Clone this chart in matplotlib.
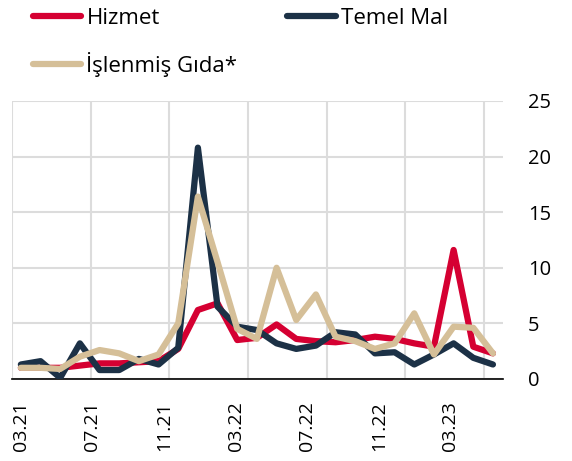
import numpy as np
import matplotlib.pyplot as plt

plt.rcParams['font.family'] = ['Open Sans', 'DejaVu Sans']

# monthly series, 03.21 .. 03.23
months = ['03.21', '04.21', '05.21', '06.21', '07.21', '08.21', '09.21', '10.21',
          '11.21', '12.21', '01.22', '02.22', '03.22', '04.22', '05.22', '06.22',
          '07.22', '08.22', '09.22', '10.22', '11.22', '12.22', '01.23', '02.23', '03.23']
hizmet = [1.0, 1.0, 1.0, 1.2, 1.4, 1.4, 1.5, 1.6, 2.7, 6.2, 6.8, 3.5, 3.7,
          4.9, 3.6, 3.4, 3.3, 3.5, 3.8, 3.6, 3.2, 2.9, 11.6, 2.9, 2.3]
temel_mal = [1.3, 1.6, 0.1, 3.2, 0.8, 0.8, 1.8, 1.3, 2.8, 20.8, 6.5, 4.7, 4.4,
             3.2, 2.7, 3.0, 4.2, 4.0, 2.3, 2.4, 1.3, 2.2, 3.2, 1.9, 1.3]
islenmis_gida = [1.0, 1.0, 0.9, 2.0, 2.6, 2.3, 1.6, 2.2, 5.0, 16.4, 10.5, 4.5, 3.6,
                 10.0, 5.3, 7.6, 3.8, 3.4, 2.7, 3.2, 5.9, 2.2, 4.7, 4.6, 2.3]
tick_labels = ['03.21', '07.21', '11.21', '03.22', '07.22', '11.22', '03.23']

red = '#d50032'
navy = '#1c3146'
tan = '#d5bf98'

fig = plt.figure(figsize=(5.72, 4.61), dpi=100)
ax = fig.add_axes([0.021, 0.178, 0.858, 0.603])

x = np.arange(len(months))
kw = dict(lw=4.5, solid_joinstyle='round', solid_capstyle='round')
l1, = ax.plot(x, hizmet, color=red, label='Hizmet', zorder=3, **kw)
l2, = ax.plot(x, temel_mal, color=navy, label='Temel Mal', zorder=4, **kw)
l3, = ax.plot(x, islenmis_gida, color=tan, label='İşlenmiş Gıda*', zorder=5, **kw)

ax.set_xlim(-0.42, 24.5)
ax.set_ylim(0, 25)

# gridlines sit between months, labels spread a bit tighter
ax.set_xticks(np.arange(-0.45, 24, 4), minor=True)
ax.set_xticks(np.arange(len(tick_labels)) * 3.64)
ax.set_xticklabels(tick_labels, rotation=90, fontsize=14)
ax.tick_params(axis='x', which='both', length=0, pad=16)
ax.grid(True, which='minor', axis='x', color='#dcdcdc', lw=1.5)
ax.grid(True, which='major', axis='y', color='#dcdcdc', lw=1.5)
ax.grid(False, which='major', axis='x')

ax.yaxis.tick_right()
ax.set_yticks([0, 5, 10, 15, 20, 25])
ax.tick_params(axis='y', length=0, pad=18, labelsize=14.5)
for t in ax.get_yticklabels():
    t.set_horizontalalignment('left')

for s in ['top', 'right', 'left']:
    ax.spines[s].set_visible(False)
ax.spines['bottom'].set_color('black')
ax.spines['bottom'].set_linewidth(1.2)
ax.set_axisbelow(True)

leg = fig.legend([l1, l3, l2], ['Hizmet', 'İşlenmiş Gıda*', 'Temel Mal'],
                 ncol=2, loc='upper left', bbox_to_anchor=(0.057, 0.983),
                 frameon=False, fontsize=16, handlelength=2.2, handletextpad=0.22,
                 columnspacing=2.25, labelspacing=1.05, borderpad=0, borderaxespad=0)

plt.savefig('out.png', dpi=100)
